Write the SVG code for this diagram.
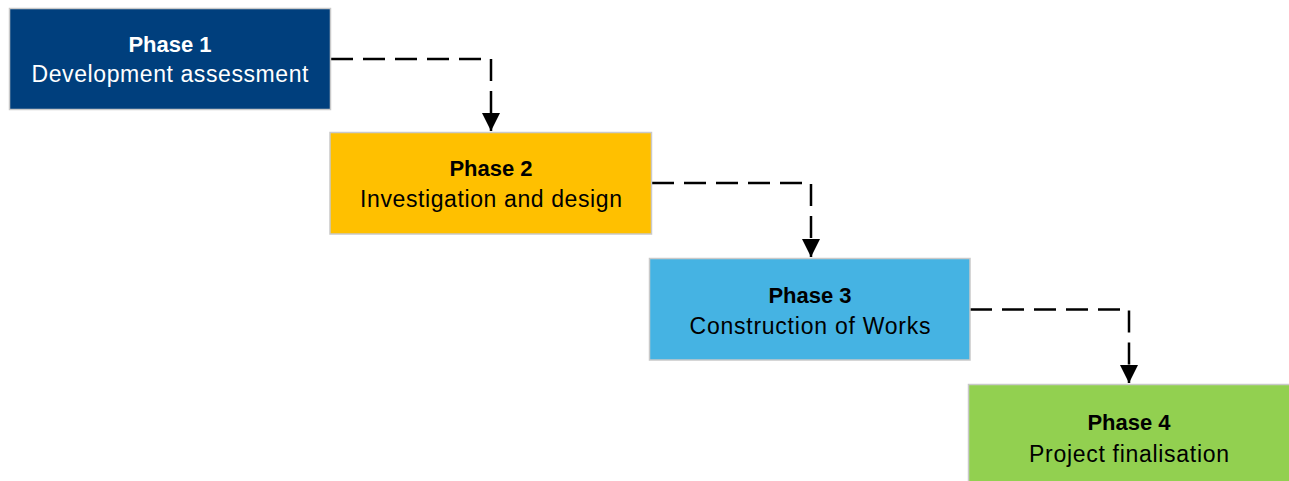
<svg xmlns="http://www.w3.org/2000/svg" width="1289" height="481" viewBox="0 0 1289 481">
<style>
.box{stroke:#C9C9C9;stroke-width:1.5}
.t{font-family:"Liberation Sans",Arial,sans-serif;font-size:23px;text-anchor:middle}
.b{font-weight:bold;font-size:22px}
.w{fill:#FFFFFF}
.k{fill:#000000}
.c{fill:none;stroke:#000000;stroke-width:2.5;stroke-dasharray:22,10}
</style>
<defs>
<marker id="arr" markerWidth="18" markerHeight="18" refX="18" refY="9" orient="auto" markerUnits="userSpaceOnUse">
<path d="M0,0 L18,9 L0,18 Z" fill="#000000"/>
</marker>
</defs>
<rect width="1289" height="481" fill="#FFFFFF"/>
<g id="connectors">
<path class="c" d="M331,59 H491 V131" marker-end="url(#arr)"/>
<path class="c" d="M652,183 H811 V257" marker-end="url(#arr)"/>
<path class="c" d="M970,309.5 H1129 V383" marker-end="url(#arr)"/>
</g>
<g id="phase1">
<rect class="box" x="9.5" y="8.5" width="321" height="101" fill="#003F7D"/>
<text class="t b w" x="170" y="52">Phase 1</text>
<text class="t w" x="170" y="82" textLength="277" lengthAdjust="spacing">Development assessment</text>
</g>
<g id="phase2">
<rect class="box" x="330" y="132.5" width="321.5" height="101.5" fill="#FFC000"/>
<text class="t b k" x="491" y="175.5">Phase 2</text>
<text class="t k" x="491" y="207" textLength="262" lengthAdjust="spacing">Investigation and design</text>
</g>
<g id="phase3">
<rect class="box" x="649.5" y="258.5" width="320.5" height="101.5" fill="#45B3E3"/>
<text class="t b k" x="810" y="302.5">Phase 3</text>
<text class="t k" x="810" y="334" textLength="241" lengthAdjust="spacing">Construction of Works</text>
</g>
<g id="phase4">
<rect class="box" x="968.5" y="384.5" width="330" height="110" fill="#92D050"/>
<text class="t b k" x="1129" y="430">Phase 4</text>
<text class="t k" x="1129" y="461.5" textLength="200" lengthAdjust="spacing">Project finalisation</text>
</g>
</svg>
